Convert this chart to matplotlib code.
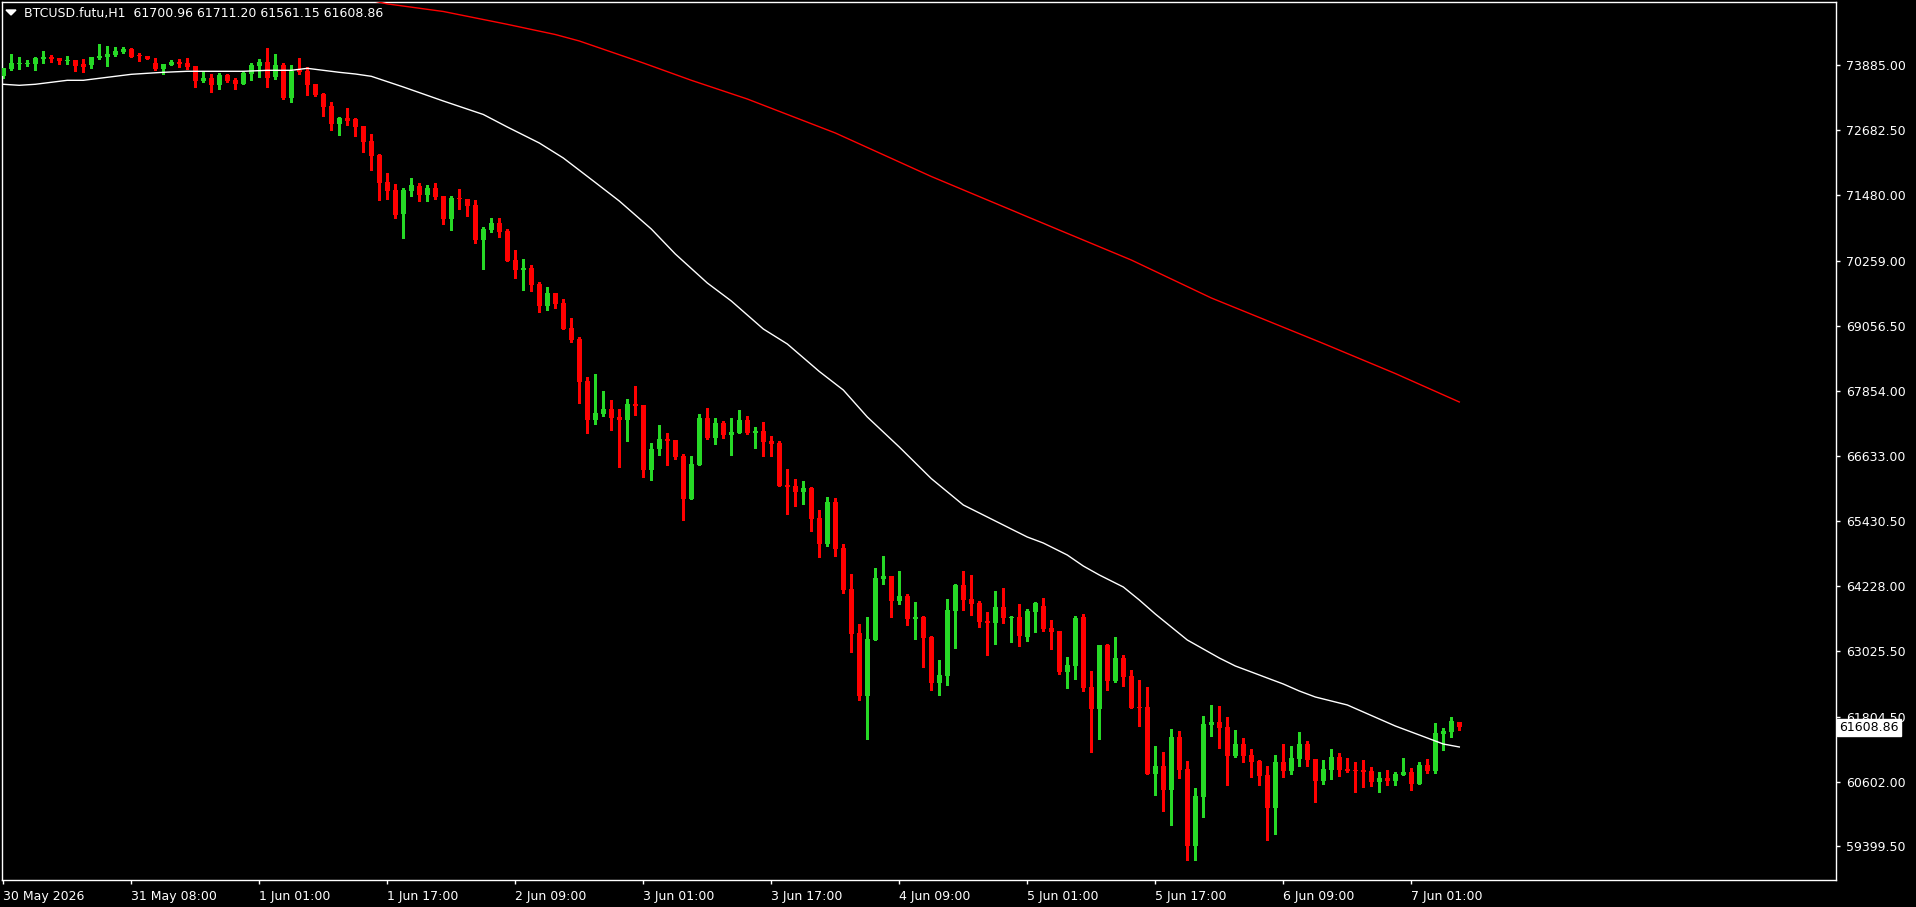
import matplotlib
matplotlib.use("Agg")
import matplotlib.pyplot as plt
import matplotlib.transforms as mtransforms
from matplotlib.patches import Polygon

# BTCUSD.futu H1 candles (bar 0 = leftmost)
opens = [
    73689, 73813, 73917, 73911, 73917, 74009, 74047, 74017, 73961, 73985,
    73906, 73893, 74022, 74041, 74078, 74134, 74184, 74072, 74059, 73924,
    73824, 73898, 73943, 73924, 73874, 73601, 73651, 73527, 73702, 73614,
    73546, 73731, 73874, 73948, 73676, 73893, 73281, 73800, 73781, 73540,
    73355, 73132, 72798, 72910, 72891, 72761, 72483, 72224, 71723, 71574,
    71135, 71561, 71649, 71487, 71612, 71463, 71042, 71426, 71408, 71296,
    70653, 70838, 70962, 70814, 70276, 70096, 70128, 69837, 69429, 69664,
    69479, 69015, 68811, 68038, 67315, 67426, 67513, 67365, 67315, 67606,
    67587, 66387, 66771, 66957, 66938, 66641, 65850, 66480, 67346, 66975,
    67254, 67031, 67068, 67309, 67068, 67105, 66920, 66883, 66104, 66085,
    65974, 66048, 65492, 65010, 65788, 64935, 64175, 63359, 62191, 63229,
    64360, 64416, 63952, 64045, 63619, 63656, 63285, 62432, 62562, 63767,
    64249, 63989, 63915, 63582, 63544, 63841, 63637, 63656, 63285, 63748,
    63860, 63452, 63396, 62636, 62747, 63656, 62358, 61949, 63136, 62469,
    62895, 62562, 61987, 61987, 60744, 60893, 60447, 61430, 60837, 59409,
    60318, 61653, 61709, 61616, 61078, 61301, 61097, 60985, 60726, 60114,
    60967, 60800, 61022, 61301, 61022, 60614, 60818, 61059, 60837, 60818,
    60818, 60800, 60596, 60670, 60614, 60726, 60781, 60559, 60911, 60800,
    61486, 61523, 61700.96,
]
highs = [
    73837, 74097, 74047, 73985, 74047, 74152, 74078, 74017, 74059, 73985,
    74004, 74047, 74282, 74245, 74221, 74221, 74208, 74110, 74059, 74022,
    73911, 73985, 74004, 74022, 73874, 73776, 73726, 73739, 73720, 73646,
    73768, 73924, 74004, 74208, 74097, 73924, 73893, 74022, 73850, 73540,
    73379, 73206, 72934, 73095, 72910, 72761, 72613, 72242, 71890, 71686,
    71606, 71797, 71704, 71667, 71704, 71463, 71463, 71593, 71408, 71389,
    70888, 71055, 71055, 70851, 70467, 70295, 70184, 69868, 69776, 69664,
    69553, 69201, 68848, 68107, 68162, 67847, 67680, 67513, 67699, 67940,
    67587, 66883, 67216, 67068, 66938, 66679, 66641, 67420, 67532, 67346,
    67291, 67346, 67495, 67383, 67179, 67272, 67012, 66920, 66400, 66215,
    66178, 66067, 65640, 65881, 65863, 65010, 64453, 63526, 63656, 64564,
    64787, 64416, 64509, 64082, 63934, 63674, 63303, 62858, 63989, 64268,
    64509, 64435, 63952, 63748, 64138, 64194, 63674, 63897, 63804, 63934,
    64008, 63600, 63396, 62914, 63674, 63711, 62654, 63136, 63155, 63285,
    62951, 62673, 62487, 62358, 61263, 61152, 61579, 61542, 60985, 60485,
    61820, 62024, 62005, 61801, 61560, 61412, 61208, 61004, 60893, 61097,
    61301, 61263, 61523, 61356, 61022, 61004, 61208, 61134, 61041, 60967,
    61004, 60874, 60781, 60818, 60781, 61041, 60855, 60967, 61022, 61690,
    61597, 61801, 61711.20,
]
lows = [
    73651, 73800, 73824, 73874, 73800, 73935, 73954, 73911, 73911, 73781,
    73768, 73842, 74004, 73880, 74065, 74110, 74047, 73972, 74009, 73800,
    73731, 73898, 73861, 73813, 73490, 73577, 73397, 73453, 73577, 73453,
    73546, 73620, 73676, 73490, 73638, 73268, 73212, 73731, 73336, 73318,
    72947, 72687, 72594, 72780, 72576, 72279, 71945, 71389, 71408, 71061,
    70690, 71469, 71376, 71376, 71413, 70949, 70838, 71228, 71098, 70597,
    70115, 70801, 70708, 70263, 69948, 69725, 69707, 69318, 69355, 69392,
    69002, 68761, 67630, 67074, 67241, 67389, 67124, 66443, 66925, 67407,
    66258, 66202, 66666, 66480, 66591, 65460, 65850, 66480, 66957, 66870,
    66975, 66660, 67068, 67049, 66790, 66641, 66641, 66085, 65566, 65714,
    65751, 65251, 64768, 64972, 64787, 64106, 63007, 62116, 61393, 63229,
    64268, 63656, 63897, 63507, 63248, 62728, 62302, 62209, 62395, 63081,
    63786, 63693, 63470, 62951, 63155, 63544, 63192, 63118, 63211, 63378,
    63396, 63062, 62599, 62339, 62506, 62283, 61152, 61393, 62302, 62450,
    62376, 61968, 61634, 60744, 60355, 60058, 59798, 60670, 59149, 59149,
    59947, 61449, 61226, 60540, 61059, 60967, 60689, 60540, 59520, 59631,
    60689, 60744, 60893, 60893, 60225, 60559, 60651, 60707, 60781, 60410,
    60503, 60522, 60410, 60540, 60540, 60726, 60447, 60559, 60763, 60763,
    61189, 61430, 61561.15,
]
closes = [
    73837, 73924, 73935, 73935, 74022, 74041, 74004, 73967, 73985, 73880,
    73861, 74035, 74059, 74097, 74152, 74189, 74047, 74054, 74009, 73824,
    73911, 73948, 73911, 73861, 73601, 73651, 73527, 73707, 73601, 73546,
    73744, 73893, 73948, 73657, 73893, 73281, 73787, 73763, 73522, 73336,
    73114, 72798, 72910, 72854, 72743, 72465, 72205, 71710, 71561, 71111,
    71574, 71667, 71487, 71612, 71450, 71042, 71426, 71408, 71283, 70653,
    70851, 70962, 70801, 70263, 70096, 70128, 69818, 69429, 69664, 69466,
    69002, 68798, 68019, 67315, 67439, 67513, 67352, 67315, 67606, 67574,
    66387, 66771, 66957, 66920, 66623, 65850, 66493, 67346, 66975, 67254,
    67031, 67087, 67309, 67068, 67105, 66901, 66864, 66085, 66067, 65974,
    66048, 65473, 65010, 65788, 64917, 64156, 63340, 62191, 63248, 64379,
    64416, 63952, 64045, 63619, 63656, 63266, 62432, 62580, 63786, 64249,
    63971, 63897, 63563, 63544, 63841, 63637, 63656, 63303, 63767, 63915,
    63433, 63378, 62636, 62766, 63637, 62339, 61949, 63136, 62469, 62895,
    62543, 61968, 61968, 60744, 60893, 60447, 61430, 60818, 59409, 60336,
    61671, 61709, 61597, 61078, 61301, 61078, 60967, 60707, 60114, 60967,
    60800, 61041, 61301, 61004, 60614, 60837, 61059, 60818, 60800, 60800,
    60781, 60596, 60670, 60614, 60744, 60781, 60559, 60911, 60800, 61505,
    61542, 61727, 61608.86,
]

# moving averages, sampled at bar indices
ma_fast_bars = [0, 2, 4, 6, 8, 10, 12, 14, 16, 18, 20, 23, 26, 30, 33, 36, 38, 40, 42, 44,
                46, 50, 55, 60, 63, 67, 70, 74, 77, 81, 84, 88, 91, 95, 98, 102, 105, 108, 112, 116,
                120, 124, 128, 130, 133, 135, 137, 140, 142, 144, 146, 148, 150, 152, 154, 156, 158, 160, 162, 164,
                166, 168, 170, 172, 174, 176, 178, 180, 182]
ma_fast_vals = [73535, 73516, 73535, 73572, 73609, 73609, 73646, 73683, 73720, 73739,
                73757, 73776, 73776, 73776, 73794, 73794, 73831, 73794, 73757, 73726,
                73683, 73485, 73225, 72975, 72743, 72446, 72168, 71714, 71370, 70851,
                70388, 69850, 69516, 68997, 68719, 68209, 67865, 67365, 66808, 66222,
                65733, 65436, 65139, 65028, 64805, 64601, 64435, 64212, 63971, 63711,
                63470, 63229, 63062, 62895, 62747, 62636, 62524, 62413, 62283, 62172,
                62098, 62024, 61894, 61764, 61634, 61523, 61412, 61300, 61245]
ma_slow_bars = [44, 48, 55, 63, 69, 72, 80, 86, 93, 104, 116, 128, 141, 151, 165, 174, 182]
ma_slow_vals = [75154, 75026, 74885, 74647, 74458, 74338, 73930, 73609, 73262, 72632,
                71825, 71079, 70276, 69572, 68728, 68171, 67643]

price_ticks = [73885.00, 72682.50, 71480.00, 70259.00, 69056.50, 67854.00, 66633.00,
               65430.50, 64228.00, 63025.50, 61804.50, 60602.00, 59399.50]
time_tick_bars = [0, 16, 32, 48, 64, 80, 96, 112, 128, 144, 160, 176]
time_tick_labels = ["30 May 2026", "31 May 08:00", "1 Jun 01:00", "1 Jun 17:00", "2 Jun 09:00",
                    "3 Jun 01:00", "3 Jun 17:00", "4 Jun 09:00", "5 Jun 01:00", "5 Jun 17:00",
                    "6 Jun 09:00", "7 Jun 01:00"]

W, H = 1916, 907
BULL = "#26d926"
BEAR = "#ff0000"

fig = plt.figure(figsize=(W / 100, H / 100), dpi=100, facecolor="black")
ax = fig.add_axes([2 / W, 27 / H, 1834 / W, 878 / H], facecolor="black")

n = len(closes)
xs = list(range(n))
colors = [BULL if c >= o else BEAR for o, c in zip(opens, closes)]

ax.vlines(xs, lows, highs, colors=colors, linewidth=0.9, antialiased=False, zorder=2)
bottoms = [min(o, c) for o, c in zip(opens, closes)]
heights = [max(abs(c - o), 19) for o, c in zip(opens, closes)]
ax.bar(xs, heights, bottom=bottoms, width=0.625, color=colors, linewidth=0, zorder=3)

ax.plot(ma_fast_bars, ma_fast_vals, color="white", linewidth=1.0, zorder=4)
ax.plot(ma_slow_bars, ma_slow_vals, color="#ff0000", linewidth=1.0, zorder=4)

ax.set_xlim((2 - 3.3) / 8, (1836 - 3.3) / 8)
ax.set_ylim(58778, 75061)

for s in ax.spines.values():
    s.set_color("white")
    s.set_linewidth(1)

ax.yaxis.tick_right()
ax.set_yticks(price_ticks)
ax.set_yticklabels([f"{v:.2f}" for v in price_ticks])
ax.set_xticks(time_tick_bars)
ax.set_xticklabels(time_tick_labels)
ax.tick_params(axis="both", colors="white", labelcolor="white", labelsize=9,
               length=3, width=1, direction="out")
ax.tick_params(axis="x", pad=4)
ax.tick_params(axis="y", pad=4)
plt.setp(ax.get_xticklabels(), ha="left")

# current price label
trans = mtransforms.blended_transform_factory(ax.transAxes, ax.transData)
ax.text(1.0 + 3 / 1834, closes[-1], f"{closes[-1]:.2f}", transform=trans, ha="left", va="center",
        fontsize=9, color="black", zorder=10, clip_on=False,
        bbox=dict(boxstyle="square,pad=0.18", fc="white", ec="white"))

# header
tri = Polygon([(6 / W, 1 - 10 / H), (16 / W, 1 - 10 / H), (11 / W, 1 - 15 / H)],
              closed=True, transform=fig.transFigure, color="white")
fig.patches.append(tri)
fig.text(24 / W, 1 - 13 / H,
         f"BTCUSD.futu,H1  {opens[-1]:.2f} {highs[-1]:.2f} {lows[-1]:.2f} {closes[-1]:.2f}",
         color="white", fontsize=9, va="center", ha="left")

fig.savefig("out.png", dpi=100, facecolor="black")
